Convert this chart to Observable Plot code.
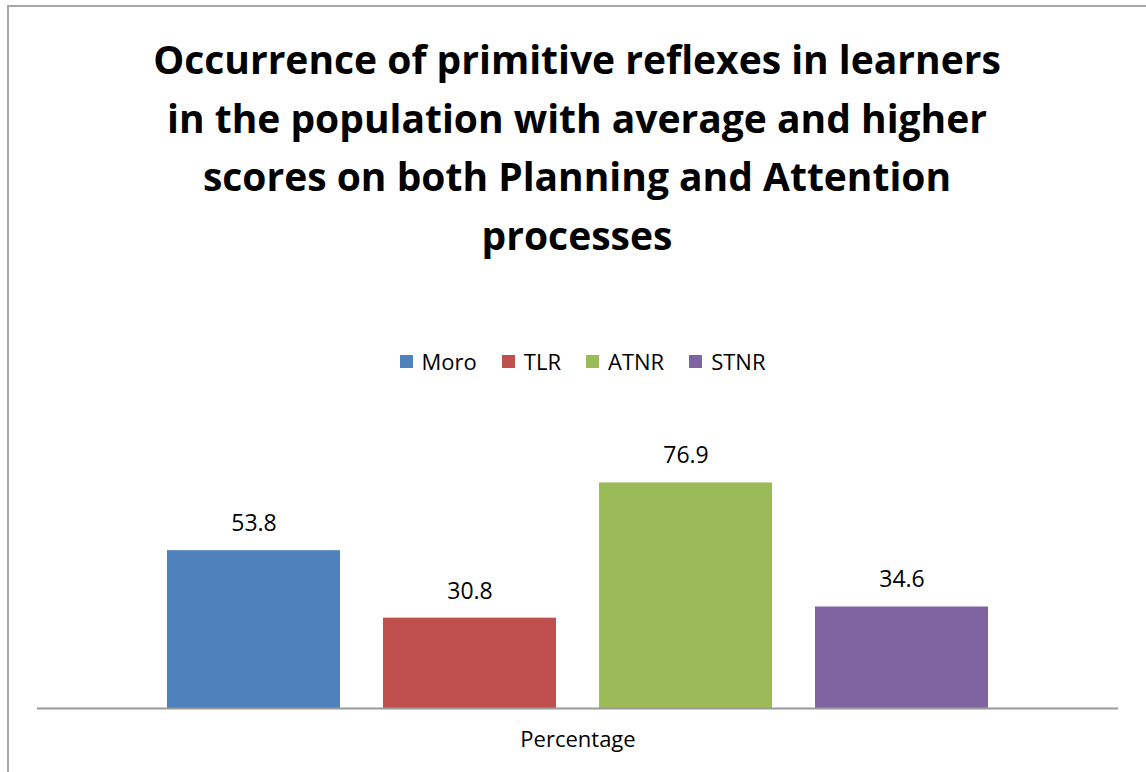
<!DOCTYPE html>
<html>
<head>
<meta charset="utf-8">
<script src="https://cdn.jsdelivr.net/npm/d3@7"></script>
<script src="https://cdn.jsdelivr.net/npm/@observablehq/plot@0.6"></script>
<style>
  html, body { margin: 0; padding: 0; background: #fff; }
  body { width: 1146px; height: 772px; position: relative; overflow: hidden; font-family: "Open Sans", Lato, sans-serif; font-variant-ligatures: none; }
  #frame { position: absolute; left: 7px; top: 5px; width: 1200px; height: 820px; border-left: 2px solid #a6a6a6; border-top: 2px solid #a6a6a6; }
  #title { position: absolute; left: 0; top: 30px; width: 1154px; text-align: center; font-weight: bold; font-size: 39px; line-height: 58.5px; color: #000; }
  #legend { position: absolute; top: 346px; left: 0; width: 1165px; display: flex; justify-content: center; gap: 25px; font-size: 22px; color: #000; }
  #legend .item { display: flex; align-items: center; gap: 9px; }
  #legend .sw { width: 13px; height: 13px; display: inline-block; }
  #chart { position: absolute; left: 0; top: 0; }
</style>
</head>
<body>
<div id="chart"></div>
<div id="frame"></div>
<div id="title"></div>
<div id="legend"></div>
<script>
const titleLines = [
  "Occurrence of primitive reflexes in learners",
  "in the population with average and higher",
  "scores on both Planning and Attention",
  "processes"
];
const categories = ["Percentage"];
const series = ["Moro", "TLR", "ATNR", "STNR"];
const values = [53.8, 30.8, 76.9, 34.6];
const colors = ["#4F81BD", "#C0504D", "#9BBB59", "#8064A2"];

const data = series.map((s, i) => ({category: categories[0], series: s, value: values[i]}));

document.getElementById("title").innerHTML = titleLines.join("<br>");

const legend = document.getElementById("legend");
series.forEach((s, i) => {
  const item = document.createElement("div");
  item.className = "item";
  const sw = document.createElement("span");
  sw.className = "sw";
  sw.style.background = colors[i];
  const t = document.createElement("span");
  t.textContent = s;
  item.appendChild(sw);
  item.appendChild(t);
  legend.appendChild(item);
});

const chart = Plot.plot({
  width: 1146,
  height: 772,
  marginLeft: 37,
  marginRight: 28,
  marginTop: 444,
  marginBottom: 64,
  style: {fontFamily: "'Open Sans', Lato, sans-serif", fontSize: "22px", color: "#000", background: "transparent"},
  fx: {domain: categories, padding: 0, axis: "bottom", tickSize: 0, tickPadding: 23, label: null, fontSize: 22},
  x: {domain: series, paddingInner: 0.198, paddingOuter: 0.59, axis: null},
  y: {domain: [0, 90], axis: null},
  color: {domain: series, range: colors},
  marks: [
    Plot.barY(data, {fx: "category", x: "series", y: "value", fill: "series"}),
    Plot.text(data, {fx: "category", x: "series", y: "value", text: d => d.value.toFixed(1), dy: -27, fontSize: 23, fill: "#000"}),
    Plot.ruleY([0], {stroke: "#999", strokeWidth: 2})
  ]
});
document.getElementById("chart").appendChild(chart);
</script>
</body>
</html>
